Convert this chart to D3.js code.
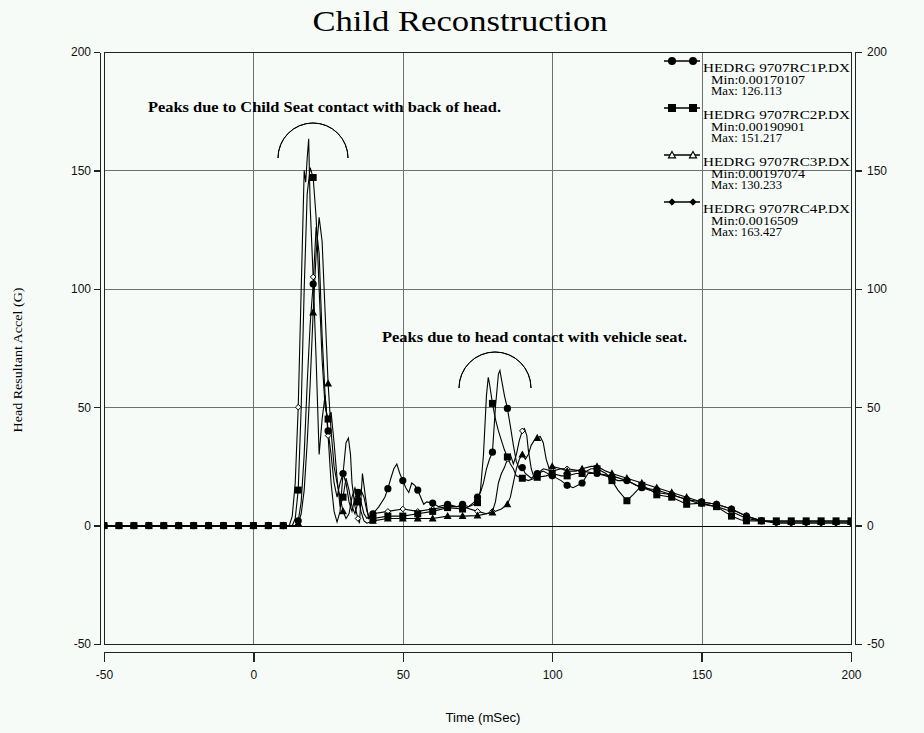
<!DOCTYPE html>
<html><head><meta charset="utf-8">
<script src="https://cdn.jsdelivr.net/npm/d3@7"></script>
<style>
html,body{margin:0;padding:0;background:#f6fbf8;}
svg{display:block;}
</style></head><body>
<svg id="c" width="924" height="733"></svg>
<script>
// ---------- data ----------
const xTicks = [-50, 0, 50, 100, 150, 200];
const yTicks = [-50, 0, 50, 100, 150, 200];
const titleText = "Child Reconstruction";
const xTitle = "Time (mSec)";
const yTitle = "Head Resultant Accel (G)";
const note1 = "Peaks due to Child Seat contact with back of head.";
const note2 = "Peaks due to head contact with vehicle seat.";
const seriesNames = ["HEDRG 9707RC1P.DX", "HEDRG 9707RC2P.DX", "HEDRG 9707RC3P.DX", "HEDRG 9707RC4P.DX"];
const seriesMin = ["Min:0.00170107", "Min:0.00190901", "Min:0.00197074", "Min:0.0016509"];
const seriesMax = ["Max: 126.113", "Max: 151.217", "Max: 130.233", "Max: 163.427"];
const seriesMarkers = ["circle", "square", "triangle", "diamond"];

const baseline = [[-50,0],[-45,0],[-40,0],[-35,0],[-30,0],[-25,0],[-20,0],[-15,0],[-10,0],[-5,0],[0,0],[5,0],[10,0]];

const series1 = baseline.concat([
 [14,0],[15,2],[16,10],[17,30],[18,60],[19,85],[20,102],[21,126.1],[22,115],[23,80],[24,55],[25,40],[26,30],[27,18],[28,12],[29,18],[30,22],[31,18],[32,10],[33,6],[34,12],[35,14],[36,10],[37,5],[38,3],[40,5],[42,8],[44,12],[45,15.6],[46,20],[47,24],[48,26],[49,22],[50,19],[51,16],[52,14],[53,18],[54,17],[55,15],[56,12],[57,9],[58,10],[60,9.5],[62,8],[65,9],[68,8],[70,9],[72,8],[74,10],[75,12],[76,14],[77,18],[78,24],[79,28],[80,31],[81,50],[82,64],[82.5,65.5],[83,62],[84,55],[85,49.5],[86,42],[87,34],[88,27],[89,24],[90,24.5],[91,22],[93,20],[95,22],[97,23],[100,21],[103,19],[105,17],[107,16],[110,18],[112,22],[115,22],[118,21],[120,20],[122,19],[125,19],[128,17],[130,16],[135,15],[140,13],[145,11],[150,10],[155,9],[160,7],[165,4],[170,2],[175,1.5],[180,1.5],[185,1.5],[190,1.5],[195,1.5],[200,1.5]
]);
const series2 = baseline.concat([
 [13,0],[14,3],[15,15],[16,50],[17,100],[18,140],[19,151.2],[20,147],[21,130],[22,100],[23,70],[24,50],[25,45],[26,48],[27,35],[28,20],[29,8],[30,12],[31,20],[32,15],[33,8],[34,5],[35,10],[36,15],[37,12],[38,6],[39,3],[40,3],[45,4],[50,4],[55,5],[60,6],[65,7.6],[70,7],[72,8],[74,9],[75,9.7],[76,15],[77,30],[78,55],[78.6,62.6],[79,60],[80,51.6],[81,45],[82,40],[83,36],[84,32],[85,29],[86,26],[87,24],[88,21],[90,20],[92,19],[95,20.4],[98,21],[100,22],[103,21],[105,21],[108,22],[110,22],[113,24],[115,24],[118,22],[120,19],[122,15],[125,10.5],[127,13],[130,17],[133,15],[135,13],[140,12],[145,9],[150,9.5],[155,8],[160,4],[163,2.5],[165,2],[170,2],[175,2],[180,2],[185,2],[190,2],[195,2],[200,2]
]);
const series3 = baseline.concat([
 [14,0],[15,1],[16,5],[17,15],[18,35],[19,60],[20,90],[21,115],[22,130.2],[23,120],[24,90],[25,60],[26,40],[27,25],[28,18],[29,12],[30,6],[31,3],[32,5],[33,12],[34,16],[35,12],[36,6],[37,2],[38,1],[40,2],[45,3],[50,3],[55,3],[60,3],[65,4],[70,4],[75,4.2],[80,5.5],[83,7],[85,9],[86,12],[87,18],[88,24],[89,28],[90,30],[91,28],[92,30],[93,34],[94,36],[95,37],[96,37.6],[97,35],[98,28],[99,24],[100,25],[103,24],[105,23],[108,23],[110,24],[113,25],[115,25],[118,23],[120,22],[125,20],[130,18],[135,16],[140,14],[145,12],[150,10],[155,9],[160,7],[165,4],[170,2],[175,1.5],[180,1.5],[185,1.5],[190,1.5],[195,1.5],[200,1.5]
]);
const series4 = baseline.concat([
 [12,0],[13,4],[14,18],[15,50],[16,100],[17,150],[17.5,145],[18,155],[18.5,163.4],[19,135],[20,105],[21,70],[22,30],[23,45],[24,55],[25,38],[26,18],[27,6],[28,1.5],[29,6],[30,22],[31,35],[31.8,37],[32.5,30],[33,18],[34,8],[35,3],[35.5,1],[36.5,22],[37.5,12],[38.5,3],[40,5],[45,6],[50,7],[55,6],[60,7],[65,8],[70,8],[75,6],[78,5],[80,6],[81,10],[82,18],[83,22],[84,24.5],[85,28],[86,30],[87,26],[88,30],[89,36],[90,40],[90.7,41],[91.5,38],[92,32],[93,24],[94,20],[95,22],[97,24],[100,23],[103,24],[105,24],[110,23],[115,22],[120,21],[125,19],[130,16],[135,14],[140,13],[145,11],[150,9],[155,8],[160,6],[165,3],[170,2],[175,1],[180,1],[185,1],[190,1],[195,1],[200,1]
]);
const allSeries = [series1, series2, series3, series4];

// ---------- layout ----------
const svg = d3.select("#c");
const W = 924, H = 733;
const L = 104, R = 851, T = 52, B = 644;
const x = d3.scaleLinear().domain([-50, 200]).range([L, R]);
const y = d3.scaleLinear().domain([-50, 200]).range([B, T]);
const bg = "#f6fbf8";
svg.append("rect").attr("width", W).attr("height", H).attr("fill", bg);

svg.append("defs").append("clipPath").attr("id", "plotClip")
  .append("rect").attr("x", L).attr("y", T).attr("width", R - L).attr("height", B - T);

// grid
const grid = svg.append("g").attr("shape-rendering", "crispEdges");
grid.selectAll(".vg").data(xTicks.filter(d => d > -50 && d < 200)).join("line")
  .attr("x1", d => Math.round(x(d)) + 0.5).attr("x2", d => Math.round(x(d)) + 0.5)
  .attr("y1", T).attr("y2", B).attr("stroke", "#707070").attr("stroke-width", 1);
grid.selectAll(".hg").data(yTicks.filter(d => d > -50 && d < 200 && d !== 0)).join("line")
  .attr("y1", d => Math.round(y(d)) + 0.5).attr("y2", d => Math.round(y(d)) + 0.5)
  .attr("x1", L).attr("x2", R).attr("stroke", "#707070").attr("stroke-width", 1);
grid.append("line").attr("x1", L).attr("x2", R)
  .attr("y1", Math.round(y(0)) + 0.5).attr("y2", Math.round(y(0)) + 0.5)
  .attr("stroke", "#000").attr("stroke-width", 1);

// frame
svg.append("rect").attr("x", L + 0.5).attr("y", T + 0.5).attr("width", R - L).attr("height", B - T)
  .attr("fill", "none").attr("stroke", "#222").attr("stroke-width", 1.2).attr("shape-rendering", "crispEdges");

// axes
const tickFont = "Liberation Sans, Arial, sans-serif";
const fmt = d => String(d);
function styleAxis(g) {
  g.attr("shape-rendering", "crispEdges");
  g.selectAll("path").attr("stroke", "#222").attr("stroke-width", 1.2);
  g.selectAll("line").attr("stroke", "#222").attr("stroke-width", 1.2);
  g.selectAll("text").attr("font-family", tickFont).attr("font-size", 12).attr("fill", "#111");
}
svg.append("g").attr("transform", `translate(${L - 4},0)`)
  .call(d3.axisLeft(y).tickValues(yTicks).tickFormat(fmt).tickSize(6).tickSizeOuter(0).tickPadding(3))
  .call(styleAxis);
svg.append("g").attr("transform", `translate(${R + 4},0)`)
  .call(d3.axisRight(y).tickValues(yTicks).tickFormat(fmt).tickSize(7).tickSizeOuter(0).tickPadding(5))
  .call(styleAxis);
svg.append("g").attr("transform", `translate(0,${B + 8})`)
  .call(d3.axisBottom(x).tickValues(xTicks).tickFormat(fmt).tickSize(10).tickSizeOuter(0).tickPadding(8))
  .call(styleAxis);

// series lines
const plot = svg.append("g").attr("clip-path", "url(#plotClip)");
const line = d3.line().x(d => x(d[0])).y(d => y(d[1]));
allSeries.forEach(s => {
  plot.append("path").datum(s).attr("d", line)
    .attr("fill", "none").attr("stroke", "#000").attr("stroke-width", 1.1);
});

// markers
function drawMarker(g, type, cx, cy, big, fill) {
  if (type === "circle") {
    g.append("circle").attr("cx", cx).attr("cy", cy).attr("r", big ? 4 : 3.6).attr("fill", "#000");
  } else if (type === "square") {
    const s = big ? 8 : 7;
    g.append("rect").attr("x", cx - s / 2).attr("y", cy - s / 2).attr("width", s).attr("height", s).attr("fill", "#000");
  } else if (type === "triangle") {
    const s = big ? 3.6 : 3;
    g.append("path").attr("d", `M${cx},${cy - s}L${cx + s},${cy + s * 0.8}L${cx - s},${cy + s * 0.8}Z`)
      .attr("fill", fill).attr("stroke", "#000").attr("stroke-width", 1.1);
  } else {
    const s = big ? 3.2 : 2.8;
    g.append("path").attr("d", `M${cx},${cy - s}L${cx + s},${cy}L${cx},${cy + s}L${cx - s},${cy}Z`)
      .attr("fill", fill).attr("stroke", "#000").attr("stroke-width", 1);
  }
}
// draw order: diamonds, triangles, circles, squares (squares end up on top, as in the reference)
[3, 2, 0, 1].forEach(i => {
  const mg = plot.append("g");
  allSeries[i].filter(d => d[0] % 5 === 0).forEach(d => {
    drawMarker(mg, seriesMarkers[i], x(d[0]), y(d[1]), false, i === 3 ? bg : "#000");
  });
});

// legend
const lg = svg.append("g").attr("clip-path", "url(#plotClip)");
const serif = "Liberation Serif, Times New Roman, serif";
seriesNames.forEach((nm, i) => {
  const ly = 61 + 47 * i;
  lg.append("line").attr("x1", 664).attr("x2", 700).attr("y1", ly).attr("y2", ly)
    .attr("stroke", "#000").attr("stroke-width", 1.5);
  drawMarker(lg, seriesMarkers[i], 672, ly, true, i === 2 ? bg : "#000");
  drawMarker(lg, seriesMarkers[i], 693, ly, true, i === 2 ? bg : "#000");
  lg.append("text").attr("x", 703).attr("y", ly + 11).text(nm)
    .attr("font-family", serif).attr("font-size", 13.5)
    .attr("textLength", 147).attr("lengthAdjust", "spacingAndGlyphs").attr("fill", "#000");
  lg.append("text").attr("x", 711).attr("y", ly + 23).text(seriesMin[i])
    .attr("font-family", serif).attr("font-size", 11.5)
    .attr("textLength", i === 3 ? 87 : 94).attr("lengthAdjust", "spacingAndGlyphs").attr("fill", "#000");
  lg.append("text").attr("x", 711).attr("y", ly + 34).text(seriesMax[i])
    .attr("font-family", serif).attr("font-size", 11.5)
    .attr("textLength", 71).attr("lengthAdjust", "spacingAndGlyphs").attr("fill", "#000");
});

// annotations
svg.append("text").attr("x", 148).attr("y", 112).text(note1)
  .attr("font-family", serif).attr("font-weight", "bold").attr("font-size", 15)
  .attr("textLength", 353).attr("lengthAdjust", "spacingAndGlyphs");
svg.append("text").attr("x", 382).attr("y", 342).text(note2)
  .attr("font-family", serif).attr("font-weight", "bold").attr("font-size", 15)
  .attr("textLength", 305).attr("lengthAdjust", "spacingAndGlyphs");
const arc = d3.arc();
svg.append("path").attr("transform", "translate(313,158)")
  .attr("d", arc({innerRadius: 35, outerRadius: 35, startAngle: -Math.PI / 2, endAngle: Math.PI / 2}))
  .attr("fill", "none").attr("stroke", "#000").attr("stroke-width", 1);
svg.append("path").attr("transform", "translate(495,388)")
  .attr("d", arc({innerRadius: 36, outerRadius: 36, startAngle: -Math.PI / 2, endAngle: Math.PI / 2}))
  .attr("fill", "none").attr("stroke", "#000").attr("stroke-width", 1);

// titles
svg.append("text").attr("x", 460).attr("y", 31).attr("text-anchor", "middle").text(titleText)
  .attr("font-family", serif).attr("font-size", 30)
  .attr("textLength", 295).attr("lengthAdjust", "spacingAndGlyphs");
svg.append("text").attr("x", 483).attr("y", 722).attr("text-anchor", "middle").text(xTitle)
  .attr("font-family", tickFont).attr("font-size", 12)
  .attr("textLength", 75).attr("lengthAdjust", "spacingAndGlyphs");
svg.append("text").attr("transform", "translate(22,360) rotate(-90)").attr("text-anchor", "middle").text(yTitle)
  .attr("font-family", serif).attr("font-size", 12)
  .attr("textLength", 145).attr("lengthAdjust", "spacingAndGlyphs");
</script>
</body></html>
